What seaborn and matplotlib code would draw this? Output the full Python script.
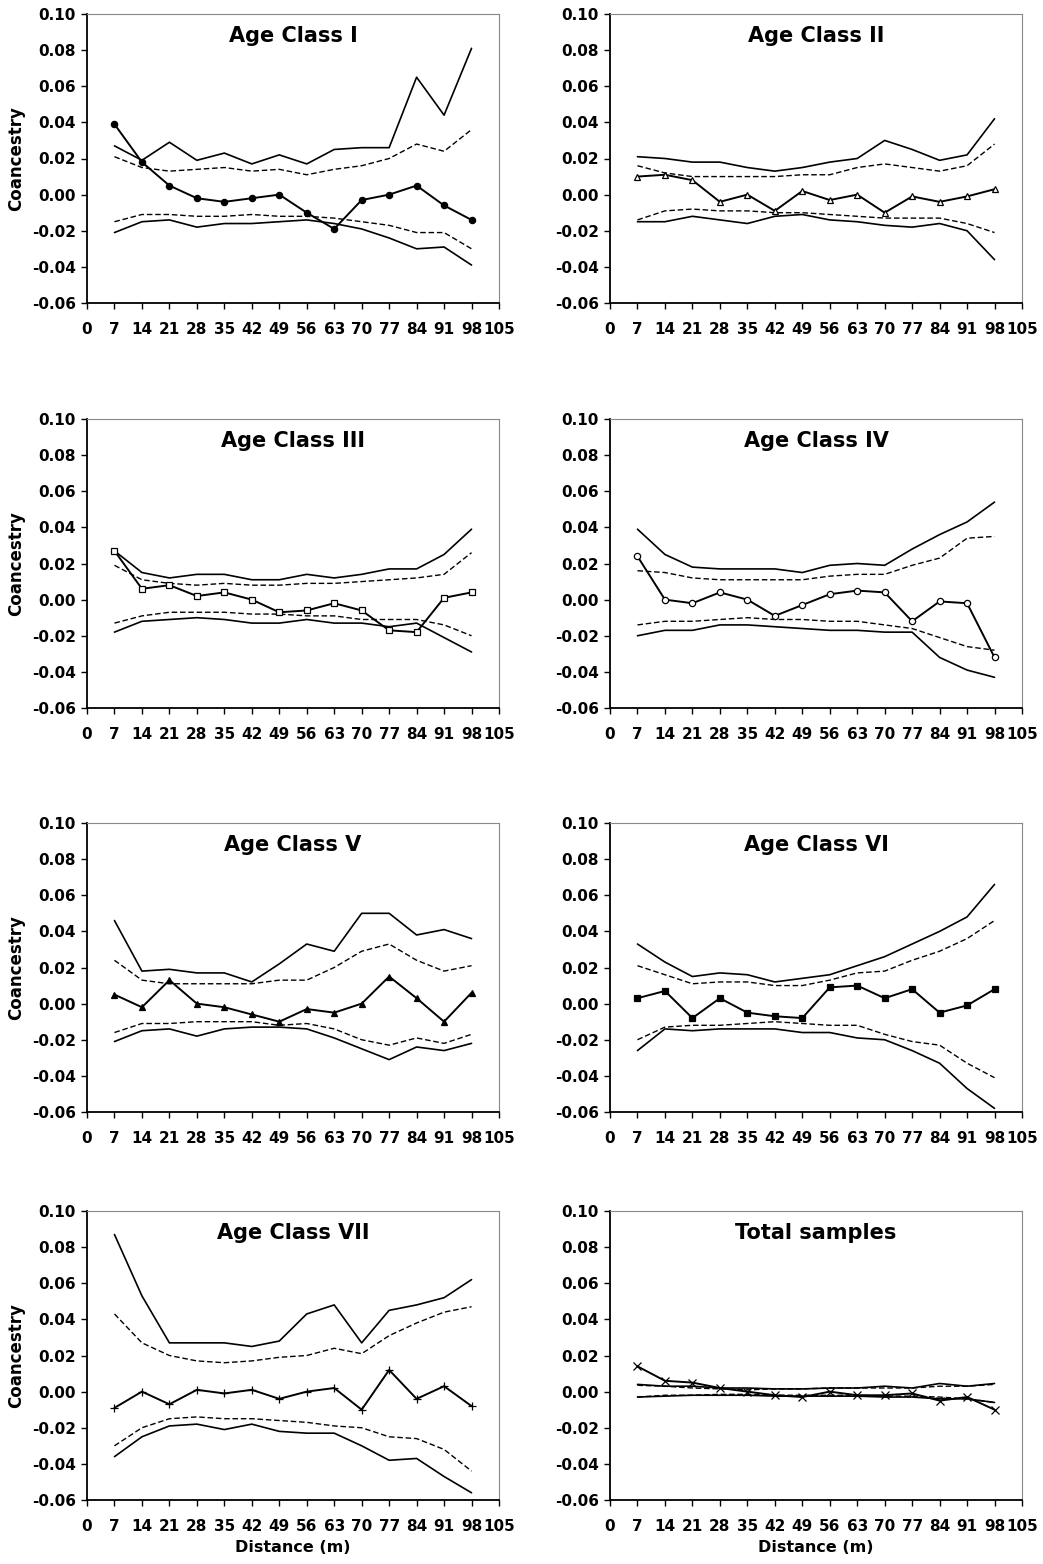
import matplotlib
matplotlib.use("Agg")
from matplotlib import pyplot as plt
import seaborn as sns

# distance classes (m)
dist = [7, 14, 21, 28, 35, 42, 49, 56, 63, 70, 77, 84, 91, 98]

# Age class I
obs_1 = [0.039, 0.018, 0.005, -0.002, -0.004, -0.002, 0.000, -0.010, -0.019, -0.003, 0.000, 0.005, -0.006, -0.014]
hi99_1 = [0.027, 0.019, 0.029, 0.019, 0.023, 0.017, 0.022, 0.017, 0.025, 0.026, 0.026, 0.065, 0.044, 0.081]
hi95_1 = [0.021, 0.015, 0.013, 0.014, 0.015, 0.013, 0.014, 0.011, 0.014, 0.016, 0.020, 0.028, 0.024, 0.036]
lo95_1 = [-0.015, -0.011, -0.011, -0.012, -0.012, -0.011, -0.012, -0.012, -0.013, -0.015, -0.017, -0.021, -0.021, -0.030]
lo99_1 = [-0.021, -0.015, -0.014, -0.018, -0.016, -0.016, -0.015, -0.014, -0.016, -0.019, -0.024, -0.030, -0.029, -0.039]

# Age class II
obs_2 = [0.010, 0.011, 0.008, -0.004, 0.000, -0.009, 0.002, -0.003, 0.000, -0.010, -0.001, -0.004, -0.001, 0.003]
hi99_2 = [0.021, 0.020, 0.018, 0.018, 0.015, 0.013, 0.015, 0.018, 0.020, 0.030, 0.025, 0.019, 0.022, 0.042]
hi95_2 = [0.016, 0.012, 0.010, 0.010, 0.010, 0.010, 0.011, 0.011, 0.015, 0.017, 0.015, 0.013, 0.016, 0.028]
lo95_2 = [-0.014, -0.009, -0.008, -0.009, -0.009, -0.010, -0.010, -0.011, -0.012, -0.013, -0.013, -0.013, -0.016, -0.021]
lo99_2 = [-0.015, -0.015, -0.012, -0.014, -0.016, -0.012, -0.011, -0.014, -0.015, -0.017, -0.018, -0.016, -0.020, -0.036]

# Age class III
obs_3 = [0.027, 0.006, 0.008, 0.002, 0.004, 0.000, -0.007, -0.006, -0.002, -0.006, -0.017, -0.018, 0.001, 0.004]
hi99_3 = [0.027, 0.015, 0.012, 0.014, 0.014, 0.011, 0.011, 0.014, 0.012, 0.014, 0.017, 0.017, 0.025, 0.039]
hi95_3 = [0.019, 0.011, 0.009, 0.008, 0.009, 0.008, 0.008, 0.009, 0.009, 0.010, 0.011, 0.012, 0.014, 0.026]
lo95_3 = [-0.013, -0.009, -0.007, -0.007, -0.007, -0.008, -0.008, -0.009, -0.009, -0.011, -0.011, -0.011, -0.014, -0.020]
lo99_3 = [-0.018, -0.012, -0.011, -0.010, -0.011, -0.013, -0.013, -0.011, -0.013, -0.013, -0.015, -0.013, -0.021, -0.029]

# Age class IV
obs_4 = [0.024, 0.000, -0.002, 0.004, 0.000, -0.009, -0.003, 0.003, 0.005, 0.004, -0.012, -0.001, -0.002, -0.032]
hi99_4 = [0.039, 0.025, 0.018, 0.017, 0.017, 0.017, 0.015, 0.019, 0.020, 0.019, 0.028, 0.036, 0.043, 0.054]
hi95_4 = [0.016, 0.015, 0.012, 0.011, 0.011, 0.011, 0.011, 0.013, 0.014, 0.014, 0.019, 0.023, 0.034, 0.035]
lo95_4 = [-0.014, -0.012, -0.012, -0.011, -0.010, -0.011, -0.011, -0.012, -0.012, -0.014, -0.016, -0.021, -0.026, -0.028]
lo99_4 = [-0.020, -0.017, -0.017, -0.014, -0.014, -0.015, -0.016, -0.017, -0.017, -0.018, -0.018, -0.032, -0.039, -0.043]

# Age class V
obs_5 = [0.005, -0.002, 0.013, 0.000, -0.002, -0.006, -0.010, -0.003, -0.005, 0.000, 0.015, 0.003, -0.010, 0.006]
hi99_5 = [0.046, 0.018, 0.019, 0.017, 0.017, 0.012, 0.022, 0.033, 0.029, 0.050, 0.050, 0.038, 0.041, 0.036]
hi95_5 = [0.024, 0.013, 0.011, 0.011, 0.011, 0.011, 0.013, 0.013, 0.020, 0.029, 0.033, 0.024, 0.018, 0.021]
lo95_5 = [-0.016, -0.011, -0.011, -0.010, -0.010, -0.010, -0.012, -0.011, -0.014, -0.020, -0.023, -0.019, -0.022, -0.017]
lo99_5 = [-0.021, -0.015, -0.014, -0.018, -0.014, -0.013, -0.013, -0.014, -0.019, -0.025, -0.031, -0.024, -0.026, -0.022]

# Age class VI
obs_6 = [0.003, 0.007, -0.008, 0.003, -0.005, -0.007, -0.008, 0.009, 0.010, 0.003, 0.008, -0.005, -0.001, 0.008]
hi99_6 = [0.033, 0.023, 0.015, 0.017, 0.016, 0.012, 0.014, 0.016, 0.021, 0.026, 0.033, 0.040, 0.048, 0.066]
hi95_6 = [0.021, 0.016, 0.011, 0.012, 0.012, 0.010, 0.010, 0.013, 0.017, 0.018, 0.024, 0.029, 0.036, 0.046]
lo95_6 = [-0.020, -0.013, -0.012, -0.012, -0.011, -0.010, -0.011, -0.012, -0.012, -0.017, -0.021, -0.023, -0.033, -0.041]
lo99_6 = [-0.026, -0.014, -0.015, -0.014, -0.014, -0.014, -0.016, -0.016, -0.019, -0.020, -0.026, -0.033, -0.047, -0.058]

# Age class VII
obs_7 = [-0.009, -0.000, -0.007, 0.001, -0.001, 0.001, -0.004, 0.000, 0.002, -0.010, 0.012, -0.004, 0.003, -0.008]
hi99_7 = [0.087, 0.053, 0.027, 0.027, 0.027, 0.025, 0.028, 0.043, 0.048, 0.027, 0.045, 0.048, 0.052, 0.062]
hi95_7 = [0.043, 0.027, 0.020, 0.017, 0.016, 0.017, 0.019, 0.020, 0.024, 0.021, 0.031, 0.038, 0.044, 0.047]
lo95_7 = [-0.030, -0.020, -0.015, -0.014, -0.015, -0.015, -0.016, -0.017, -0.019, -0.020, -0.025, -0.026, -0.032, -0.044]
lo99_7 = [-0.036, -0.025, -0.019, -0.018, -0.021, -0.018, -0.022, -0.023, -0.023, -0.030, -0.038, -0.037, -0.047, -0.056]

# Total samples
obs_t = [0.014, 0.006, 0.005, 0.002, 0.000, -0.002, -0.003, 0.000, -0.002, -0.002, -0.001, -0.005, -0.003, -0.010]
hi99_t = [0.004, 0.003, 0.003, 0.002, 0.002, 0.0015, 0.0015, 0.002, 0.002, 0.003, 0.002, 0.0045, 0.003, 0.0045]
hi95_t = [0.0035, 0.003, 0.002, 0.0015, 0.001, 0.0015, 0.0015, 0.002, 0.002, 0.002, 0.002, 0.003, 0.003, 0.004]
lo95_t = [-0.003, -0.002, -0.002, -0.0015, -0.0015, -0.002, -0.002, -0.002, -0.002, -0.0025, -0.0025, -0.003, -0.004, -0.006]
lo99_t = [-0.003, -0.0025, -0.002, -0.002, -0.002, -0.0025, -0.0025, -0.0025, -0.0025, -0.003, -0.003, -0.004, -0.004, -0.006]

titles = ["Age Class I", "Age Class II", "Age Class III", "Age Class IV",
          "Age Class V", "Age Class VI", "Age Class VII", "Total samples"]

panels = [
    (obs_1, hi99_1, hi95_1, lo95_1, lo99_1, "o", "black"),
    (obs_2, hi99_2, hi95_2, lo95_2, lo99_2, "^", "white"),
    (obs_3, hi99_3, hi95_3, lo95_3, lo99_3, "s", "white"),
    (obs_4, hi99_4, hi95_4, lo95_4, lo99_4, "o", "white"),
    (obs_5, hi99_5, hi95_5, lo95_5, lo99_5, "^", "black"),
    (obs_6, hi99_6, hi95_6, lo95_6, lo99_6, "s", "black"),
    (obs_7, hi99_7, hi95_7, lo95_7, lo99_7, "+", "black"),
    (obs_t, hi99_t, hi95_t, lo95_t, lo99_t, "x", "black"),
]

sns.set_style("ticks")
plt.rcParams["font.family"] = ["DejaVu Sans"]
plt.rcParams["font.weight"] = "bold"
plt.rcParams["text.color"] = "black"
plt.rcParams["axes.labelcolor"] = "black"
plt.rcParams["xtick.color"] = "black"
plt.rcParams["ytick.color"] = "black"

fig = plt.figure(figsize=(10.43, 15.64), dpi=100)

lefts = [87 / 1043, 610 / 1043]
bottoms = [1 - 303 / 1564, 1 - 708 / 1564, 1 - 1112 / 1564, 1 - 1500 / 1564]
w = 412 / 1043
h = 289 / 1564

yticks = [-0.06, -0.04, -0.02, 0.00, 0.02, 0.04, 0.06, 0.08, 0.10]
xticks = list(range(0, 106, 7))

for i, (obs, hi99, hi95, lo95, lo99, mk, mfc) in enumerate(panels):
    row, col = divmod(i, 2)
    ax = fig.add_axes([lefts[col], bottoms[row], w, h])

    for env in (hi99, lo99):
        sns.lineplot(x=dist, y=env, ax=ax, color="black", linewidth=1.2)
    for env in (hi95, lo95):
        sns.lineplot(x=dist, y=env, ax=ax, color="black", linewidth=1.0,
                     linestyle=(0, (4, 2)))
    ms = 6 if mk in ("+", "x") else (5 if mk == "^" else 4.5)
    sns.lineplot(x=dist, y=obs, ax=ax, color="black", linewidth=1.4,
                 marker=mk, markersize=ms, markerfacecolor=mfc,
                 markeredgecolor="black", markeredgewidth=0.9)

    ax.set_xlim(0, 105)
    ax.set_ylim(-0.06, 0.10)
    ax.set_xticks(xticks)
    ax.set_xticklabels([str(t) for t in xticks], fontsize=11, fontweight="bold")
    ax.set_yticks(yticks)
    ax.set_yticklabels([f"{t:.2f}" for t in yticks], fontsize=11, fontweight="bold")
    ax.tick_params(direction="out", length=4, width=1.0, colors="black")
    ax.tick_params(axis="x", pad=10)
    ax.tick_params(axis="y", pad=4)

    for s in ("left", "bottom"):
        ax.spines[s].set_color("black")
        ax.spines[s].set_linewidth(1.3)
    for s in ("top", "right"):
        ax.spines[s].set_color("#888888")
        ax.spines[s].set_linewidth(0.8)

    ax.text(0.5, 0.925, titles[i], transform=ax.transAxes, ha="center",
            va="center", fontsize=15, fontweight="bold", color="black")

    ax.set_ylabel("Coancestry" if col == 0 else "", fontsize=12,
                  fontweight="bold", labelpad=5)
    ax.set_xlabel("Distance (m)" if row == 3 else "", fontsize=11.5,
                  fontweight="bold", labelpad=4)

fig.savefig("out.png", dpi=100, facecolor="white")
